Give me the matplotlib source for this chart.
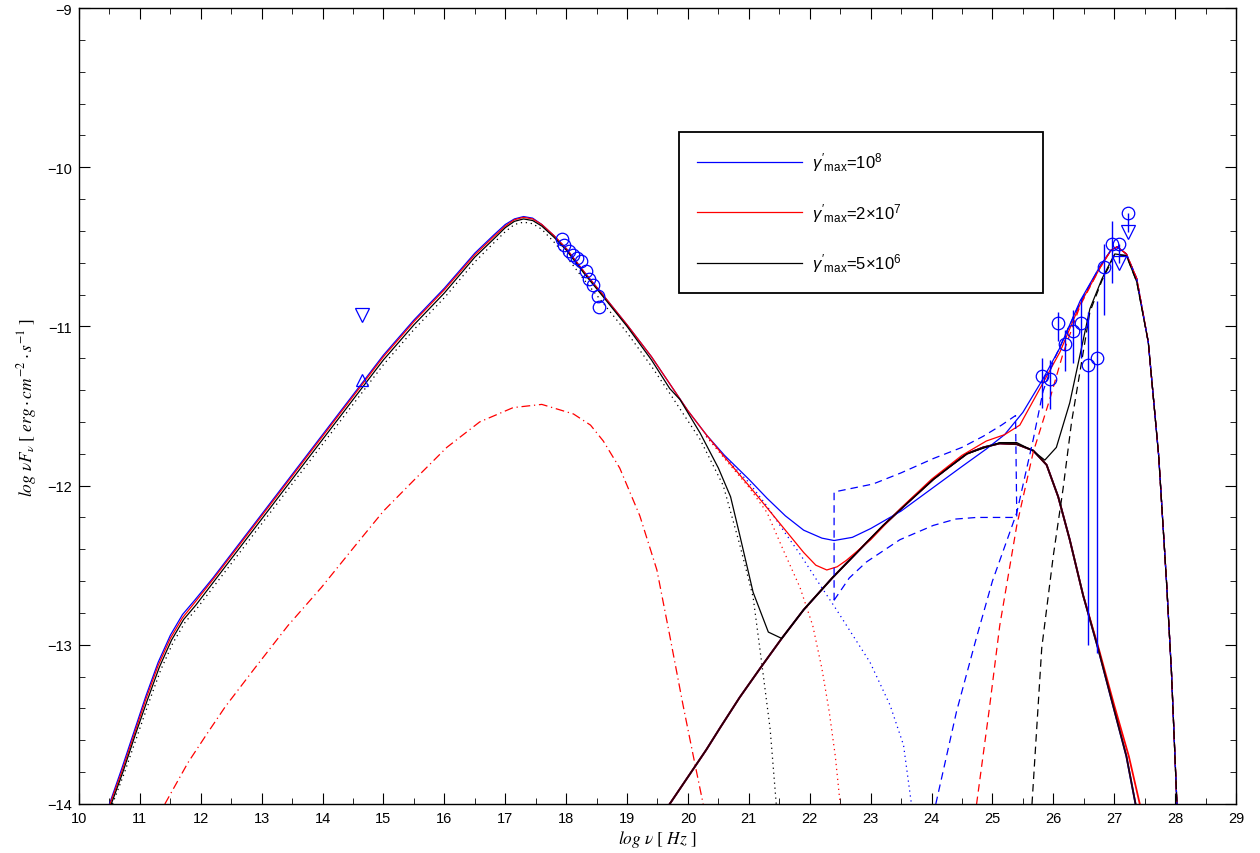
import numpy as np
import matplotlib
matplotlib.use("Agg")
import matplotlib.pyplot as plt
from matplotlib.font_manager import FontProperties

plt.rcParams['font.family'] = ['Liberation Sans', 'DejaVu Sans']
plt.rcParams['mathtext.fontset'] = 'custom'
plt.rcParams['mathtext.rm'] = 'Liberation Sans'
plt.rcParams['mathtext.it'] = 'Liberation Sans:italic'

# ---- total SED, gamma'_max = 1e8 (blue)
tot1_x = [10.50, 10.70, 10.90, 11.10, 11.30, 11.50, 11.70, 11.90, 12.20, 12.60, 13.00, 13.50,
          14.00, 14.50, 15.00, 15.50, 16.00, 16.50, 16.80, 17.00, 17.15, 17.30, 17.45, 17.60,
          17.80, 18.00, 18.30, 18.60, 19.00, 19.40, 19.70, 20.00, 20.30, 20.60, 21.00, 21.30,
          21.60, 21.90, 22.20, 22.40, 22.70, 23.00, 23.50, 24.00, 24.50, 24.90, 25.20, 25.50,
          25.83, 26.10, 26.44, 26.77, 26.95, 27.05, 27.20, 27.37, 27.56, 27.73, 27.86, 27.94, 28.03]
tot1_y = [-14.00, -13.78, -13.55, -13.32, -13.11, -12.94, -12.81, -12.72, -12.58, -12.38, -12.18, -11.93,
          -11.68, -11.43, -11.18, -10.96, -10.76, -10.54, -10.43, -10.36, -10.325, -10.31, -10.32, -10.36,
          -10.43, -10.51, -10.66, -10.80, -10.99, -11.19, -11.36, -11.53, -11.68, -11.81, -11.96, -12.08,
          -12.19, -12.28, -12.33, -12.345, -12.325, -12.27, -12.16, -12.02, -11.88, -11.77, -11.68, -11.54,
          -11.33, -11.14, -10.84, -10.62, -10.52, -10.50, -10.545, -10.70, -11.10, -11.81, -12.61, -13.17, -14.00]

# ---- total SED, gamma'_max = 2e7 (red)
tot2_x = [10.51, 10.70, 10.90, 11.10, 11.30, 11.50, 11.70, 11.90, 12.20, 12.60, 13.00, 13.50,
          14.00, 14.50, 15.00, 15.50, 16.00, 16.50, 16.80, 17.00, 17.15, 17.30, 17.45, 17.60,
          17.80, 18.00, 18.30, 18.60, 19.00, 19.40, 19.70, 20.00, 20.30, 20.60, 21.00, 21.30,
          21.60, 21.90, 22.10, 22.28, 22.45, 22.60, 23.00, 23.50, 24.00, 24.50, 24.90, 25.20,
          25.45, 25.81, 26.11, 26.44, 26.77, 26.95, 27.05, 27.20, 27.37, 27.56, 27.73, 27.86, 27.94, 28.03]
tot2_y = [-14.00, -13.80, -13.57, -13.34, -13.13, -12.96, -12.83, -12.735, -12.59, -12.39, -12.19, -11.94,
          -11.69, -11.44, -11.19, -10.97, -10.77, -10.55, -10.44, -10.37, -10.33, -10.315, -10.325, -10.36,
          -10.43, -10.51, -10.66, -10.80, -10.99, -11.19, -11.36, -11.53, -11.68, -11.82, -12.00, -12.14,
          -12.28, -12.42, -12.50, -12.53, -12.51, -12.47, -12.34, -12.14, -11.96, -11.81, -11.72, -11.68,
          -11.62, -11.37, -11.16, -10.86, -10.63, -10.52, -10.50, -10.545, -10.70, -11.10, -11.81, -12.61, -13.17, -14.00]

# ---- total SED, gamma'_max = 5e6 (black)
tot3_x = [10.53, 10.72, 10.92, 11.12, 11.32, 11.52, 11.72, 11.92, 12.20, 12.60, 13.00, 13.50,
          14.00, 14.50, 15.00, 15.50, 16.00, 16.50, 16.80, 17.00, 17.15, 17.30, 17.45, 17.60,
          17.80, 18.00, 18.30, 18.60, 19.00, 19.40, 19.70, 19.87, 20.20, 20.50, 20.70, 20.85,
          21.07, 21.32, 21.54, 21.90, 22.37, 22.80, 23.21, 23.60, 24.03, 24.58, 25.12, 25.40,
          25.66, 25.86, 26.05, 26.27, 26.60, 26.80, 26.96, 27.01, 27.20, 27.37, 27.56, 27.73, 27.86, 27.94, 28.03]
tot3_y = [-14.00, -13.80, -13.57, -13.35, -13.14, -12.97, -12.84, -12.75, -12.61, -12.41, -12.21, -11.96,
          -11.71, -11.46, -11.21, -10.99, -10.79, -10.565, -10.455, -10.38, -10.34, -10.325, -10.335, -10.37,
          -10.44, -10.52, -10.67, -10.81, -11.00, -11.21, -11.39, -11.46, -11.67, -11.89, -12.07, -12.31,
          -12.67, -12.92, -12.96, -12.78, -12.58, -12.41, -12.25, -12.11, -11.96, -11.80, -11.73, -11.73,
          -11.78, -11.84, -11.76, -11.48, -10.89, -10.70, -10.58, -10.545, -10.555, -10.72, -11.10, -11.81, -12.61, -13.17, -14.00]

# ---- synchrotron components (dotted)
syn3_x = [10.55, 10.74, 10.94, 11.14, 11.34, 11.54, 11.74, 11.94, 12.20, 12.60, 13.00, 13.50,
          14.00, 14.50, 15.00, 15.50, 16.00, 16.50, 16.80, 17.00, 17.15, 17.30, 17.45, 17.60,
          17.80, 18.00, 18.30, 18.60, 19.00, 19.40, 19.70, 20.20, 20.58, 20.85, 21.07, 21.21, 21.35, 21.45]
syn3_y = [-14.00, -13.81, -13.59, -13.37, -13.16, -12.99, -12.86, -12.77, -12.64, -12.44, -12.24, -11.99,
          -11.74, -11.49, -11.24, -11.02, -10.82, -10.595, -10.48, -10.405, -10.36, -10.345, -10.355, -10.39,
          -10.47, -10.56, -10.71, -10.85, -11.04, -11.25, -11.42, -11.71, -12.00, -12.37, -12.70, -13.11, -13.53, -14.00]
syn2_x = [20.30, 20.60, 21.00, 21.30, 21.56, 21.84, 22.05, 22.20, 22.32, 22.42, 22.50]
syn2_y = [-11.69, -11.83, -12.01, -12.17, -12.40, -12.64, -12.88, -13.15, -13.42, -13.70, -14.00]
syn1_x = [20.30, 20.60, 21.00, 21.30, 21.60, 21.84, 22.11, 22.44, 22.99, 23.32, 23.54, 23.67]
syn1_y = [-11.69, -11.82, -11.98, -12.13, -12.30, -12.43, -12.59, -12.78, -13.11, -13.38, -13.63, -14.00]

# ---- external (dash-dot, red)
ext_x = [11.41, 11.79, 12.10, 12.40, 12.88, 13.43, 13.98, 14.53, 15.00, 15.49, 16.04, 16.58, 17.13,
         17.60, 18.12, 18.40, 18.61, 18.88, 19.21, 19.49, 19.70, 19.92, 20.11, 20.25]
ext_y = [-14.00, -13.74, -13.56, -13.39, -13.15, -12.88, -12.64, -12.38, -12.16, -11.97, -11.76, -11.60, -11.51,
         -11.49, -11.55, -11.62, -11.72, -11.89, -12.19, -12.53, -12.94, -13.38, -13.74, -14.00]

# ---- SSC components (solid, overlapping)
ssc_x = [19.70, 20.00, 20.30, 20.53, 20.85, 21.20, 21.54, 21.90, 22.37, 22.80, 23.21, 23.60, 24.03,
         24.30, 24.58, 24.85, 25.12, 25.40, 25.67, 25.89, 26.08, 26.27, 26.49, 26.74, 26.98, 27.20, 27.35]
ssc_y = [-14.00, -13.83, -13.66, -13.52, -13.33, -13.14, -12.96, -12.78, -12.58, -12.41, -12.25, -12.11, -11.96,
         -11.88, -11.80, -11.76, -11.735, -11.74, -11.78, -11.87, -12.07, -12.34, -12.69, -13.03, -13.38, -13.70, -14.00]
ssc2_x = [19.70, 20.00, 20.30, 20.53, 20.85, 21.20, 21.54, 21.90, 22.37, 22.80, 23.21, 23.60, 24.03,
          24.30, 24.58, 24.85, 25.12, 25.40, 25.67, 25.89, 26.08, 26.27, 26.49, 26.75, 27.00, 27.24, 27.42]
ssc2_y = ssc_y

# ---- EC components (dashed)
ec1_x = [24.07, 24.41, 24.72, 25.00, 25.40, 25.67, 25.83, 26.00, 26.20, 26.44, 26.77, 26.95, 27.05,
         27.20, 27.37, 27.56, 27.73, 27.86, 27.94, 28.03]
ec1_y = [-14.00, -13.42, -12.98, -12.60, -12.17, -11.71, -11.41, -11.22, -11.05, -10.85, -10.62, -10.52, -10.50,
         -10.545, -10.70, -11.10, -11.81, -12.61, -13.17, -14.00]
ec2_x = [24.74, 24.95, 25.12, 25.40, 25.67, 25.94, 26.16, 26.44, 26.77, 26.95, 27.05,
         27.20, 27.37, 27.56, 27.73, 27.86, 27.94, 28.03]
ec2_y = [-14.00, -13.40, -12.88, -12.25, -11.79, -11.46, -11.17, -10.87, -10.63, -10.52, -10.50,
         -10.545, -10.70, -11.10, -11.81, -12.61, -13.17, -14.00]
ec3_x = [25.65, 25.81, 26.00, 26.16, 26.30, 26.44, 26.60, 26.80, 26.96, 27.01, 27.20, 27.37, 27.56,
         27.73, 27.86, 27.94, 28.03]
ec3_y = [-14.00, -13.02, -12.44, -12.02, -11.60, -11.28, -10.91, -10.71, -10.59, -10.55, -10.555, -10.72, -11.10,
         -11.81, -12.61, -13.17, -14.00]

# ---- blue dashed closed contour
bow_x = [22.40, 22.40, 23.04, 23.50, 24.03, 24.50, 24.85, 25.15, 25.38, 25.40, 24.74, 24.40, 24.03,
         23.48, 22.93, 22.65, 22.40]
bow_y = [-12.72, -12.04, -11.99, -11.92, -11.83, -11.76, -11.69, -11.62, -11.56, -12.20, -12.20, -12.21, -12.25,
         -12.34, -12.48, -12.58, -12.72]

# ---- observations
xray_x = [17.93, 17.97, 18.04, 18.11, 18.17, 18.25, 18.32, 18.38, 18.44, 18.53, 18.54]
xray_y = [-10.45, -10.49, -10.525, -10.55, -10.57, -10.59, -10.65, -10.70, -10.74, -10.81, -10.88]

gam_x = [25.81, 25.94, 26.08, 26.20, 26.32, 26.45, 26.57, 26.71, 26.84, 26.96]
gam_y = [-11.31, -11.33, -10.98, -11.11, -11.03, -10.98, -11.24, -11.20, -10.63, -10.48]
gam_lo = [-11.51, -11.52, -11.09, -11.28, -11.23, -11.20, -13.00, -13.05, -10.93, -10.73]
gam_hi = [-11.20, -11.21, -10.91, -11.02, -10.90, -10.83, -10.91, -10.84, -10.48, -10.34]

ul_x = [27.08, 27.22]
ul_y = [-10.48, -10.29]
ul_tip = [-10.60, -10.405]

opt_x = [14.65]
opt_up = [-10.93]
opt_lo = [-11.335]

labels = [r"$\gamma'_{\mathrm{max}}$=10$^{8}$",
          r"$\gamma'_{\mathrm{max}}$=2$\times$10$^{7}$",
          r"$\gamma'_{\mathrm{max}}$=5$\times$10$^{6}$"]

fig = plt.figure(figsize=(12.6, 8.54), dpi=100)
ax = fig.add_axes([79 / 1260, 49 / 854, 1157 / 1260, 796 / 854])

lw = 0.9
dot = (1, 3)
dash = (6, 4)

ax.plot(ext_x, ext_y, color='r', lw=lw, dashes=(7, 3, 1, 3))
ax.plot(syn1_x, syn1_y, color='b', lw=lw, dashes=dot)
ax.plot(syn2_x, syn2_y, color='r', lw=lw, dashes=dot)
ax.plot(syn3_x, syn3_y, color='k', lw=lw, dashes=dot)

ax.plot(ssc_x, ssc_y, color='b', lw=1.3)
ax.plot(ssc2_x, ssc2_y, color='r', lw=1.3)
ax.plot(ssc_x, ssc_y, color='#2a0008', lw=1.3)

l1, = ax.plot(tot1_x, tot1_y, color='b', lw=lw)
l2, = ax.plot(tot2_x, tot2_y, color='r', lw=lw)
l3, = ax.plot(tot3_x, tot3_y, color='k', lw=lw)

ax.plot(bow_x, bow_y, color='b', lw=lw, dashes=dash)
ax.plot(ec1_x, ec1_y, color='b', lw=lw, dashes=dash)
ax.plot(ec2_x, ec2_y, color='r', lw=lw, dashes=dash)
ax.plot(ec3_x, ec3_y, color='k', lw=lw, dashes=dash)

# data
ax.plot(xray_x, xray_y, 'o', mfc='none', mec='b', ms=9, mew=0.9)
ax.vlines(gam_x, gam_lo, gam_hi, color='b', lw=1.0)
ax.plot(gam_x, gam_y, 'o', mfc='none', mec='b', ms=9, mew=0.9)
ax.vlines(ul_x, ul_y, ul_tip, color='b', lw=1.0)
ax.plot(ul_x, ul_y, 'o', mfc='none', mec='b', ms=9, mew=0.9)
ax.plot(ul_x, ul_tip, 'v', mfc='none', mec='b', ms=10, mew=0.9)
ax.plot(opt_x, opt_up, 'v', mfc='none', mec='b', ms=10, mew=0.9)
ax.plot(opt_x, opt_lo, '^', mfc='none', mec='b', ms=8, mew=0.9)

ax.set_xlim(10, 29)
ax.set_ylim(-14, -9)
ax.set_xticks(np.arange(10, 30, 1))
ax.set_xticks(np.arange(10.5, 29, 1), minor=True)
ax.set_yticks(np.arange(-14, -8.9, 1))
ax.set_yticks(np.arange(-14, -8.9, 0.2), minor=True)
ax.tick_params(which='both', direction='in', top=True, right=True, labelsize=10.5)
ax.tick_params(which='major', length=8, width=0.8, pad=5)
ax.tick_params(which='minor', length=4, width=0.6)
for s in ax.spines.values():
    s.set_linewidth(1.0)

ax.set_xlabel(r"$log\ \nu\ [\ Hz\ ]$", fontsize=12.5, math_fontfamily='stix', labelpad=2)
ax.set_ylabel(r"$log\ \nu F_{\nu}\ [\ erg\cdot cm^{-2}\cdot s^{-1}\ ]$", fontsize=12.5,
              math_fontfamily='stix', labelpad=6)

leg = ax.legend([l1, l2, l3], labels, loc='upper left',
                bbox_to_anchor=(0.5186, 0.642, 0.3146, 0.202), mode='expand',
                frameon=True, fancybox=False, framealpha=1, edgecolor='k',
                handlelength=6.3, handletextpad=0.55, labelspacing=1.65,
                borderpad=1.1, borderaxespad=0, prop=FontProperties(family='Liberation Sans', size=12))
leg.get_frame().set_linewidth(1.3)

fig.savefig('out.png', dpi=100)
